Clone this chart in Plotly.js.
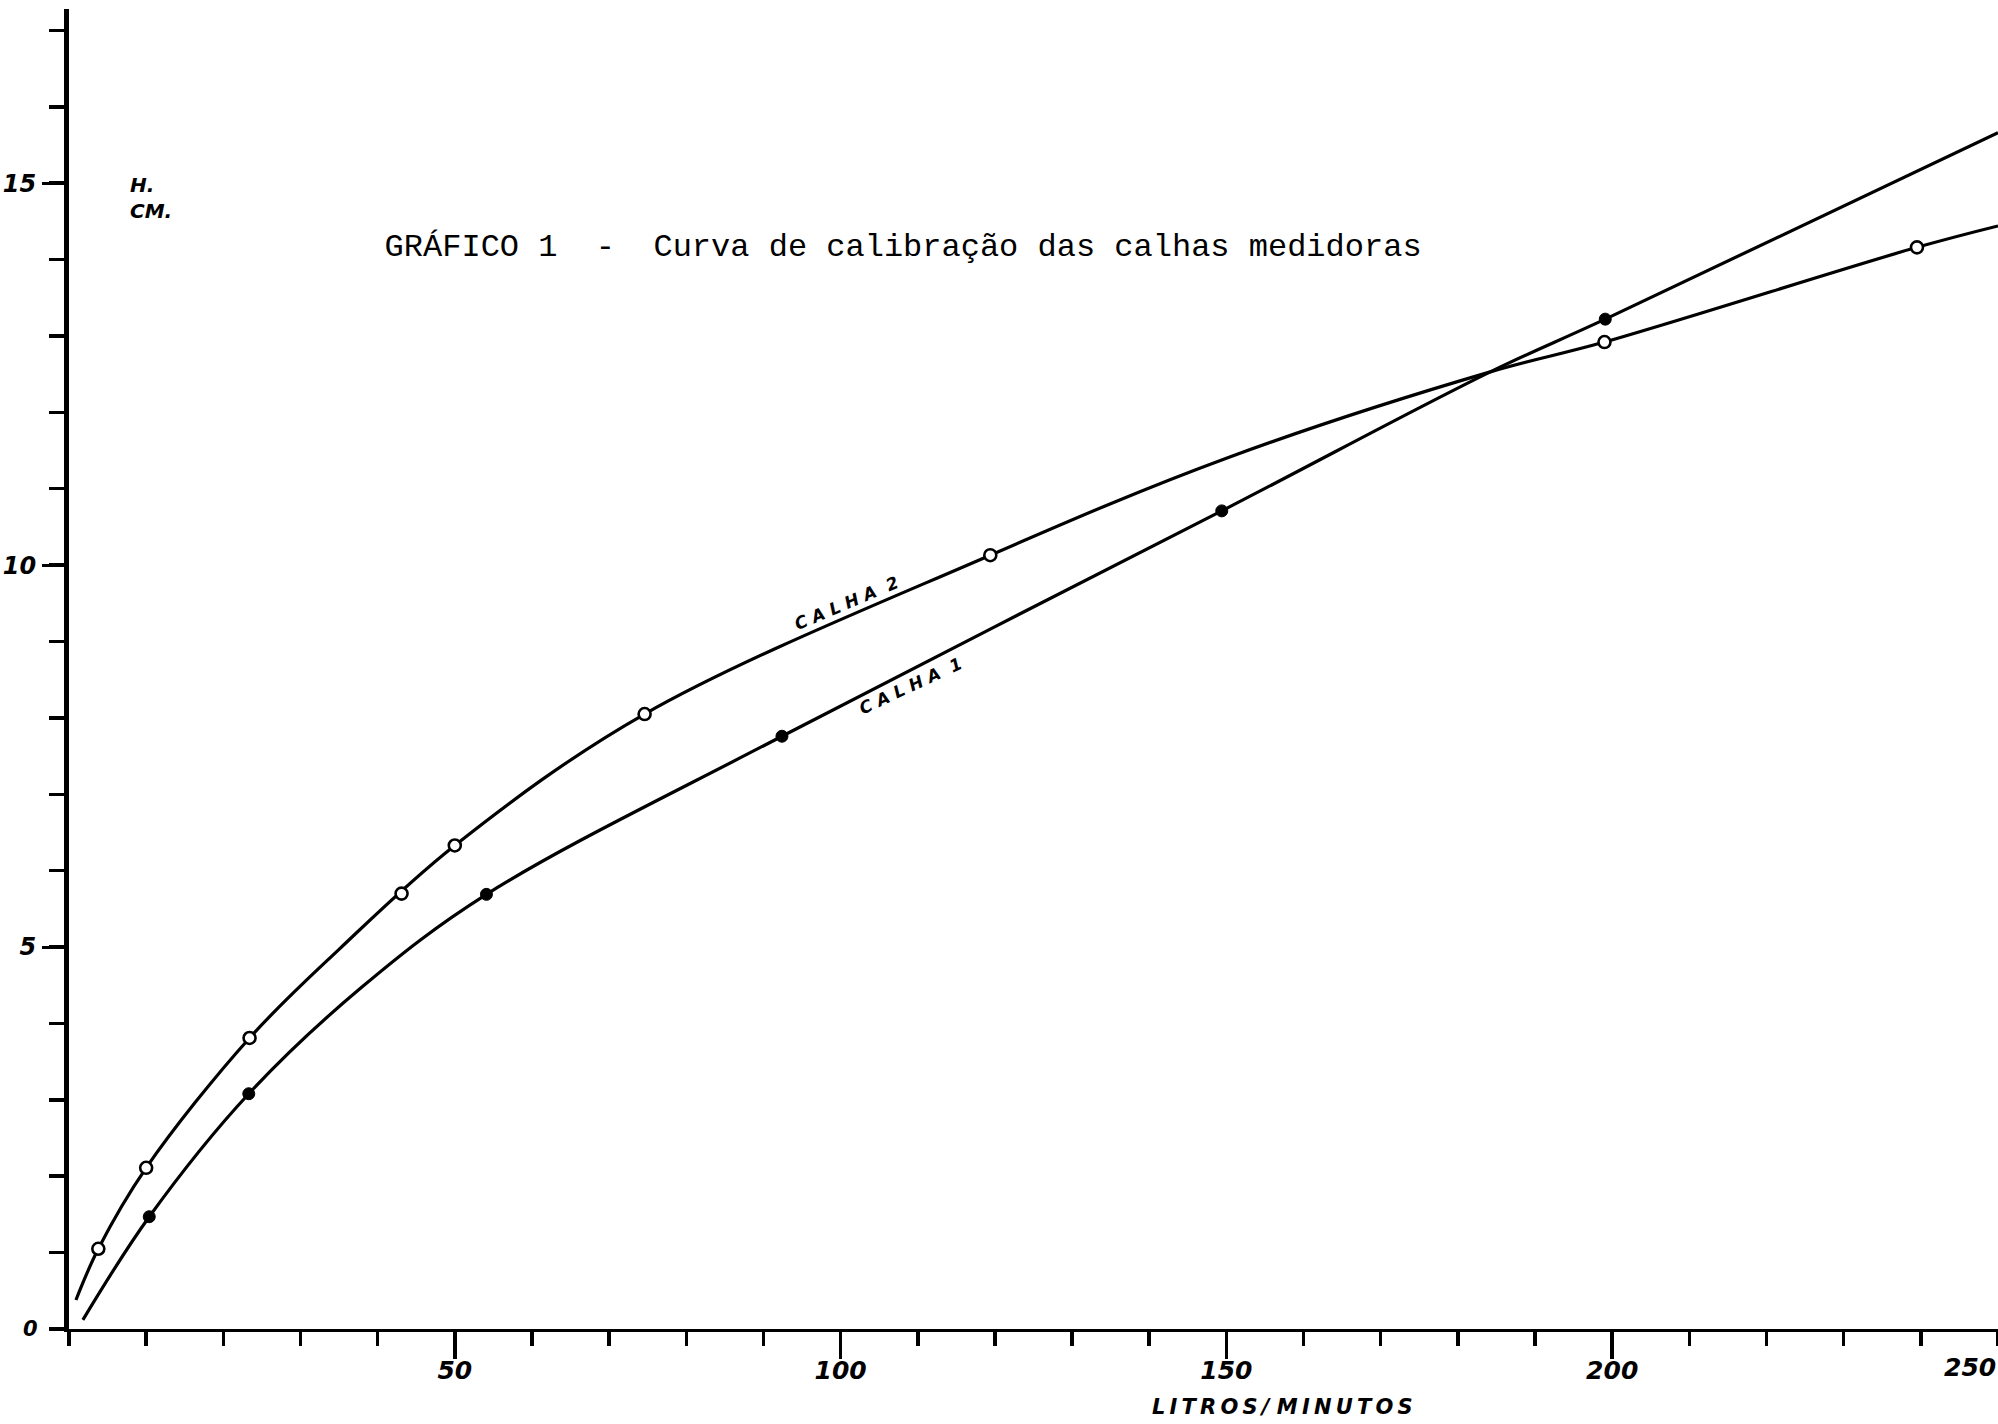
<!DOCTYPE html>
<html>
<head>
<meta charset="utf-8">
<script src="https://cdn.plot.ly/plotly-3.0.1.min.js"></script>
<style>html,body{margin:0;padding:0;background:#fff;}#chart{width:1998px;height:1424px;}</style>
</head>
<body>
<div id="chart"></div>
<script>
// Measured points (LITROS / MINUTOS vs H. CM.)
const calha1X = [10.4, 23.3, 54.1, 92.4, 149.4, 199.1];
const calha1Y = [1.47, 3.08, 5.69, 7.76, 10.71, 13.22];
const calha2X = [3.8, 10.0, 23.4, 43.1, 50.0, 74.6, 119.4, 199.0, 239.5];
const calha2Y = [1.05, 2.11, 3.81, 5.70, 6.33, 8.05, 10.13, 12.92, 14.16];

// Hand-drawn calibration curves
const curve1X = [1.8, 10.4, 23.3, 38, 54.1, 92.4, 149.4, 184.2, 199.1, 250];
const curve1Y = [0.12, 1.47, 3.08, 4.48, 5.69, 7.76, 10.71, 12.53, 13.22, 15.66];
const curve2X = [0.9, 3.8, 10.0, 23.4, 35, 50.0, 74.6, 119.4, 150, 184.2, 199.0, 239.5, 250];
const curve2Y = [0.38, 1.05, 2.11, 3.81, 4.97, 6.33, 8.05, 10.13, 11.4, 12.53, 12.92, 14.16, 14.44];

// Tick labels
const xTickVals = [50, 100, 150, 200];
const xTickText = ['50', '100', '150', '200'];
const xEdgeLabel = '250';
const yTickVals = [5, 10, 15];
const yTickText = ['5', '10', '15'];

const titleText = 'GRÁFICO 1\u00A0\u00A0-\u00A0\u00A0Curva de calibração das calhas medidoras';
const xAxisLabel = 'L\u2009I\u2009T\u2009R\u2009O\u2009S\u2009/\u00A0M\u2009I\u2009N\u2009U\u2009T\u2009O\u2009S';
const yAxisLabel = 'H.<br>CM.';
const originLabel = '0';
const label1 = 'C\u00A0A\u00A0L\u00A0H\u00A0A\u00A0\u00A01';
const label2 = 'C\u00A0A\u00A0L\u00A0H\u00A0A\u00A0\u00A02';

const lett = {family: 'DejaVu Sans, Liberation Sans, sans-serif', color: '#000', weight: 'bold', style: 'italic'};
const f = (s) => Object.assign({}, lett, {size: s});

const traces = [
  {x: curve2X, y: curve2Y, mode: 'lines', line: {color: '#000', width: 3.2, shape: 'spline', smoothing: 1}, hoverinfo: 'skip'},
  {x: curve1X, y: curve1Y, mode: 'lines', line: {color: '#000', width: 3.2, shape: 'spline', smoothing: 1}, hoverinfo: 'skip'},
  {x: calha2X, y: calha2Y, mode: 'markers', name: 'Calha 2',
   marker: {symbol: 'circle', size: 12, color: '#fff', line: {color: '#000', width: 2.6}}},
  {x: calha1X, y: calha1Y, mode: 'markers', name: 'Calha 1',
   marker: {symbol: 'circle', size: 12, color: '#000', line: {color: '#000', width: 1}}}
];

const layout = {
  width: 1998, height: 1424,
  margin: {l: 69, r: 0, t: 9, b: 95, pad: 0},
  paper_bgcolor: '#fff', plot_bgcolor: '#fff',
  showlegend: false,
  title: {text: titleText, font: {family: 'Liberation Mono, Courier New, monospace', size: 32, color: '#000'},
          xref: 'container', yref: 'container', x: 0.452, y: 0.828, xanchor: 'center', yanchor: 'middle'},
  xaxis: {
    range: [0, 250], showgrid: false, zeroline: false,
    showline: true, linewidth: 3, linecolor: '#000',
    ticks: 'outside', tickmode: 'array', tickvals: xTickVals, ticktext: xTickText,
    ticklen: 27, tickwidth: 3.5, tickcolor: '#000',
    ticklabelstandoff: -10,
    tickfont: f(25),
    minor: {tickmode: 'linear', tick0: 0, dtick: 10, ticks: 'outside', ticklen: 14, tickwidth: 3.5, tickcolor: '#000', showgrid: false}
  },
  yaxis: {
    range: [0, 17.28], showgrid: false, zeroline: false,
    showline: true, linewidth: 5, linecolor: '#000',
    ticks: 'outside', tickmode: 'array', tickvals: yTickVals, ticktext: yTickText,
    ticklen: 22, tickwidth: 3, tickcolor: '#000',
    ticklabelstandoff: 1,
    tickfont: f(24),
    minor: {tickmode: 'linear', tick0: 0, dtick: 1, ticks: 'outside', ticklen: 15, tickwidth: 3.5, tickcolor: '#000', showgrid: false}
  },
  annotations: [
    {text: yAxisLabel, x: 7.6, y: 14.8, xref: 'x', yref: 'y', xanchor: 'left', yanchor: 'middle', align: 'left',
     showarrow: false, font: f(20)},
    {text: xAxisLabel, x: 0.629, y: -0.059, xref: 'paper', yref: 'paper', xanchor: 'center', yanchor: 'middle',
     showarrow: false, font: f(21)},
    {text: xEdgeLabel, x: 250, y: -0.029, xref: 'x', yref: 'paper', xanchor: 'right', yanchor: 'middle',
     showarrow: false, font: f(25)},
    {text: originLabel, x: -0.02, y: 0, xref: 'paper', yref: 'paper', xanchor: 'center', yanchor: 'middle',
     showarrow: false, font: f(21)},
    {text: label2, x: 100.8, y: 9.5, xref: 'x', yref: 'y', textangle: -23,
     showarrow: false, font: f(17)},
    {text: label1, x: 109.0, y: 8.42, xref: 'x', yref: 'y', textangle: -25,
     showarrow: false, font: f(17)}
  ]
};

Plotly.newPlot('chart', traces, layout, {displayModeBar: false, staticPlot: true});
</script>
</body>
</html>
